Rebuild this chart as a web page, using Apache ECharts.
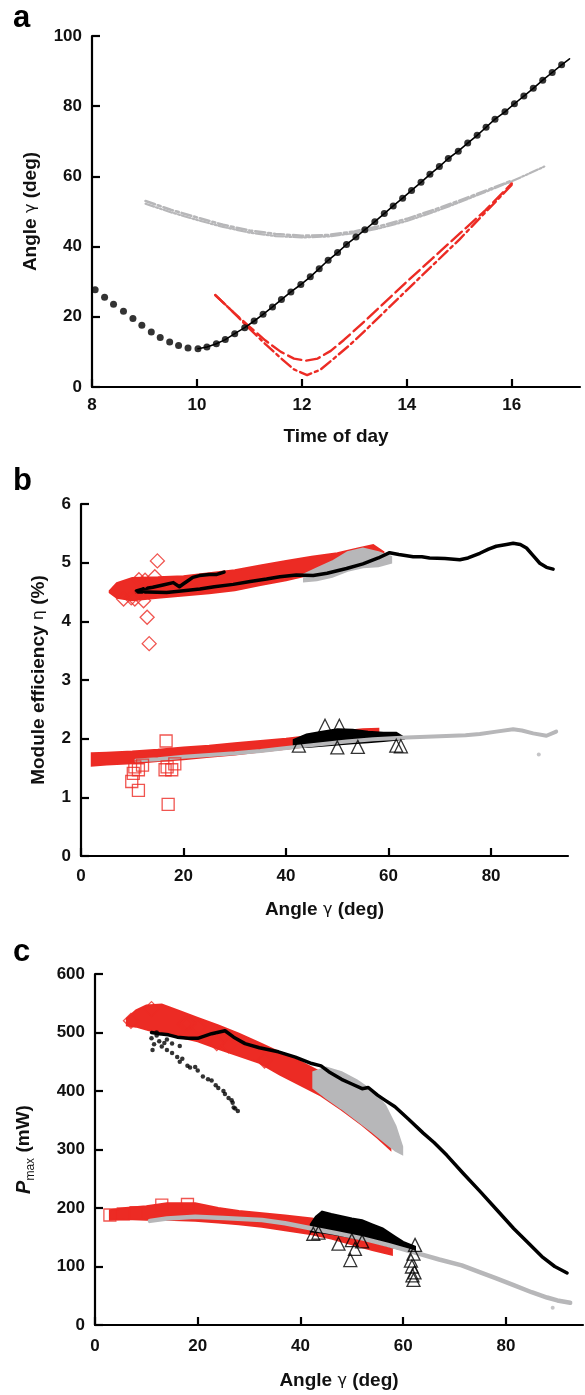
<!DOCTYPE html>
<html><head><meta charset="utf-8">
<script src="https://cdn.jsdelivr.net/npm/echarts@6/dist/echarts.min.js"></script>
<style>html,body{margin:0;padding:0;background:#fff}#c{width:585px;height:1395px}</style>
</head><body><div id="c"></div>
<script>
// ---------- Panel a : angle vs time of day ----------
var aTicksX = [8, 10, 12, 14, 16];
var aDotT = [8.06,8.24,8.41,8.60,8.78,8.95,9.13,9.30,9.48,9.65,9.83,10.02,10.19,10.37,10.54,10.72,10.91,11.09,11.26,11.44,11.61,11.79,11.98,12.16,12.33,12.50,12.68,12.85,13.03,13.20,13.39,13.57,13.74,13.92,14.09,14.27,14.44,14.62,14.79,14.98,15.16,15.34,15.51,15.68,15.87,16.05,16.23,16.41,16.59,16.77,16.95];
var aDotV = [27.7,25.6,23.6,21.6,19.5,17.6,15.7,14.1,12.8,11.8,11.1,10.9,11.4,12.3,13.5,15.2,16.9,18.8,20.7,22.8,24.9,27.1,29.2,31.4,33.7,36.1,38.3,40.6,42.7,44.8,47.1,49.4,51.6,53.8,56.0,58.3,60.6,62.8,65.1,67.2,69.5,71.7,74.0,76.3,78.4,80.7,82.9,85.1,87.4,89.6,91.8];
var aLineFrom = 11;              // connecting line starts at the 10:00 dot
var aLineEnd = [17.10, 93.5];
var aGrayAT = [9.02,9.5,10.0,10.5,11.0,11.5,12.0,12.5,13.0,13.5,14.0,14.5,15.0,15.5,16.0];
var aGrayAV = [53.0,50.5,48.3,46.2,44.6,43.6,43.1,43.3,44.3,45.9,47.9,50.4,53.1,55.9,58.8];
var aGrayBT = [9.02,9.5,10.0,10.5,11.0,11.5,12.0,12.5,13.0,13.5,14.0,14.5,15.0,15.5,16.0,16.3,16.62];
var aGrayBV = [52.2,49.8,47.6,45.6,44.0,43.0,42.6,42.9,43.8,45.3,47.3,49.8,52.6,55.6,58.6,60.6,62.8];
var aRedDashT = [10.35,10.7,11.0,11.3,11.6,11.85,12.07,12.3,12.55,12.8,13.2,13.6,14.0,14.5,15.0,15.5,16.0];
var aRedDashV = [26.2,21.2,17.2,13.3,10.0,8.1,7.5,8.1,10.3,13.4,18.8,24.4,30.0,36.8,43.6,50.4,58.0];
var aRedDotT = [10.35,10.7,11.0,11.3,11.6,11.85,12.1,12.35,12.6,12.9,13.2,13.6,14.0,14.5,15.0,15.5,16.0];
var aRedDotV = [26.2,21.2,16.6,12.3,8.2,5.0,3.4,4.9,8.0,11.8,16.0,21.8,27.6,34.8,42.0,49.8,57.6];

// ---------- Panel b : module efficiency vs angle ----------
// bands: [angle, low, high]
var bRedDiaBand = [[5.6,4.49,4.52],[7,4.40,4.65],[10,4.36,4.74],[15,4.40,4.75],[20,4.44,4.77],[25,4.48,4.82],[30,4.53,4.87],[35,4.62,4.95],[40,4.70,5.03],[45,4.80,5.10],[50,4.90,5.16],[54,4.98,5.24],[57,5.02,5.30],[59,5.08,5.18]];
var bRedDiaOut = [[14.9,5.03],[14.4,4.76],[11.3,4.71],[12.9,4.07],[13.3,3.62],[8.3,4.38],[10.5,4.38],[12.2,4.35],[12.5,4.70],[9.8,4.40]];
var bGrayCircBand = [[43.5,4.68,4.80],[46,4.70,4.90],[49,4.76,5.02],[52,4.86,5.18],[55,4.92,5.24],[58,4.94,5.18],[60.5,5.0,5.1]];
var bBlackShortX = [10.8,12,14,16,18,19.2,20,21,21.8,23.1,25,26.5,27.9];
var bBlackShortY = [4.52,4.55,4.58,4.62,4.66,4.59,4.64,4.70,4.75,4.78,4.80,4.80,4.84];
var bBlackLongX = [10.8,13,16.7,20,23.2,26,29.7,33,36.2,38.8,42,45.3,48,51.8,55,58,60.2,62,64.8,66.5,68,71,73.9,75.5,77.8,79.5,81,83,84.3,85.7,86.9,88.2,89.5,90.8,92.1];
var bBlackLongY = [4.50,4.50,4.49,4.52,4.55,4.59,4.63,4.68,4.72,4.76,4.79,4.78,4.82,4.90,4.98,5.08,5.17,5.14,5.10,5.10,5.08,5.07,5.05,5.08,5.16,5.23,5.28,5.31,5.33,5.31,5.25,5.12,4.99,4.92,4.89];
var bRedSqBand = [[2.1,1.54,1.75],[5,1.56,1.76],[10,1.58,1.78],[15,1.62,1.81],[20,1.65,1.85],[25,1.69,1.88],[30,1.73,1.92],[35,1.78,1.96],[40,1.83,2.0],[45,1.88,2.05],[50,1.93,2.12],[55,1.98,2.16],[58,2.02,2.17]];
var bRedSqOut = [[11.2,1.47],[10.2,1.41],[9.9,1.27],[11.2,1.12],[17.0,0.88],[16.4,1.47],[17.7,1.47],[16.6,1.96],[18.3,1.57],[10.5,1.52],[16.8,1.52],[12,1.55]];
var bTriBand = [[41.5,1.86,1.98],[44,1.86,2.07],[47,1.88,2.12],[50,1.90,2.16],[53,1.92,2.15],[56,1.94,2.12],[59,1.96,2.10],[61.5,1.98,2.10],[63,2.0,2.02]];
var bTriOut = [[47.6,2.22],[50.4,2.22],[50.0,1.85],[62.4,1.87],[54,1.86],[42.5,1.88],[61.5,1.88]];
var bGrayX = [10.8,15,20,25,30,35,38.8,45,51.8,57,63.5,70,75,77.8,81,84.3,86,88.2,90.8,92.7];
var bGrayY = [1.63,1.65,1.69,1.72,1.75,1.79,1.83,1.89,1.95,1.99,2.02,2.04,2.06,2.08,2.12,2.16,2.14,2.09,2.05,2.12];
var bGrayOut = [[89.3,1.73]];

// ---------- Panel c : Pmax vs angle ----------
var cRedDiaBand = [[6.2,512,524],[8,510,538],[10,505,546],[13,498,548],[16,493,538],[20,485,525],[24,472,512],[28,460,498],[32,448,482],[36,428,466],[40,410,450],[44,392,432],[48,368,410],[52,342,385],[55,320,360],[57.5,300,330]];
var cRedDiaOut = [[18.2,515],[20.1,509],[23.7,482],[17.5,514],[26,478],[33,452],[7,520],[11,540]];
var cGrayCircBand = [[42.5,405,432],[45,388,440],[48,370,432],[51,350,418],[54,330,400],[56.5,312,375],[58.5,298,340],[59.8,292,305]];
var cBlackDots = [[11,490],[11.5,480],[12,495],[12.5,485],[13,476],[13.5,482],[14,470],[15,465],[16,458],[16.5,450],[17,455],[18,443],[18.5,440],[19.5,441],[20,435],[21,425],[22,420],[22.7,418],[23.5,410],[24,405],[25,400],[25.3,395],[26,388],[26.6,384],[27,372],[27.3,370],[27.8,366],[26.8,380],[11.2,470],[12,500],[15,481],[16.5,477],[14,488]];
var cBlackLongX = [11,12.5,14.3,16,18.2,20,22.7,25.3,27,29.2,32,35.7,39,42.2,44,45.5,48,50,52,53.2,55,56.5,58.4,61,63.9,66,68.5,71.7,75,78.2,81.5,84.7,87,89.5,91.9];
var cBlackLongY = [500,498,496,492,490,490,498,503,492,481,474,467,458,447,443,433,420,412,404,406,393,384,373,352,328,312,290,259,228,197,165,137,117,100,89];
var cRedSqBand = [[2.9,180,196],[6,181,200],[10,180,203],[14,180,208],[19.5,178,208],[24,175,200],[28,172,195],[32.5,168,191],[37,162,187],[42.2,155,182],[46,148,176],[50,138,168],[54,128,158],[57.8,120,136]];
var cRedSqOut = [[2.9,188],[5.5,190],[8,192],[13,205],[18,206]];
var cTriBand = [[42,160,172],[43,159,185],[44.2,158,194],[46,156,190],[48,153,186],[50,150,182],[52,147,179],[54,143,172],[56,138,165],[58.4,132,151],[60,129,142],[62.3,126,134]];
var cTriOut = [[42.5,156],[47.4,139],[49.7,111],[50.6,130],[62,77],[61.7,100],[62,122],[62.3,137],[61.5,110],[62.2,90],[61.8,85],[50,145],[52,143],[43.5,158]];
var cGrayX = [10.7,14,19.5,25,32.5,37,42.2,47,52,57,63,67,71.4,75,78,81.5,85,88,90,92.5];
var cGrayY = [178,182,185,183,179.5,174,165,157,148,137,122,112,102,90,80,68,56,47,42,38];
var cGrayOut = [[89.1,29.6]];

// ---------- styling ----------
var RED = '#ec2b24', GRAY = '#b7b7b9', BLACK = '#000';
var FONT = '"Liberation Sans", Arial, sans-serif';
function zip(x, y) { return x.map(function (v, i) { return [v, y[i]]; }); }

function bandSeries(band, color, gi, z) {
  return {
    type: 'custom', xAxisIndex: gi, yAxisIndex: gi, data: band, z: z, silent: true,
    encode: { x: 0, y: [1, 2] },
    renderItem: function (params, api) {
      if (params.dataIndex !== 0) return null;
      var pts = [];
      for (var i = 0; i < band.length; i++) pts.push(api.coord([band[i][0], band[i][2]]));
      for (var j = band.length - 1; j >= 0; j--) pts.push(api.coord([band[j][0], band[j][1]]));
      return { type: 'polygon', shape: { points: pts }, style: { fill: color, stroke: color, lineWidth: 2 } };
    }
  };
}
function openScatter(data, symbol, size, color, gi, z) {
  return { type: 'scatter', xAxisIndex: gi, yAxisIndex: gi, data: data, symbol: symbol, symbolSize: size, z: z,
    itemStyle: { color: 'rgba(255,255,255,0)', borderColor: color, borderWidth: 1.3 } };
}
function lineS(data, color, width, type, gi, z) {
  return { type: 'line', xAxisIndex: gi, yAxisIndex: gi, data: data, showSymbol: false, z: z,
    lineStyle: { color: color, width: width, type: type || 'solid', join: 'round', cap: 'round' } };
}

function xAxis(gi, min, max, interval, name, gap, margin) {
  return {
    type: 'value', gridIndex: gi, min: min, max: max, interval: interval,
    name: name, nameLocation: 'middle', nameGap: gap,
    nameTextStyle: { fontFamily: FONT, fontWeight: 'bold', fontSize: 19, color: '#111',
      rich: { g: { fontFamily: '"DejaVu Sans", sans-serif', fontWeight: 'normal', fontSize: 16, color: '#111' } } },
    axisLine: { onZero: false, lineStyle: { color: BLACK, width: 2.2 } },
    axisTick: { inside: true, length: 8, lineStyle: { color: BLACK, width: 2.2 } },
    axisLabel: { margin: margin, showMaxLabel: false, fontFamily: FONT, fontWeight: 'bold', fontSize: 17, color: '#111' },
    splitLine: { show: false }
  };
}
function yAxis(gi, min, max, interval, name, gap, rich) {
  return {
    type: 'value', gridIndex: gi, min: min, max: max, interval: interval,
    name: name, nameLocation: 'middle', nameGap: gap, nameRotate: 90,
    nameTextStyle: { fontFamily: FONT, fontWeight: 'bold', fontSize: 19, color: '#111', rich: rich },
    axisLine: { onZero: false, lineStyle: { color: BLACK, width: 2.2 } },
    axisTick: { inside: true, length: 8, lineStyle: { color: BLACK, width: 2.2 } },
    axisLabel: { margin: 10, fontFamily: FONT, fontWeight: 'bold', fontSize: 17, color: '#111' },
    splitLine: { show: false }
  };
}
var gRich = { g: { fontFamily: '"DejaVu Sans", sans-serif', fontWeight: 'normal', fontSize: 16, color: '#111' } };
var pRich = {
  p: { fontFamily: FONT, fontWeight: 'bold', fontStyle: 'italic', fontSize: 20, color: '#111', lineHeight: 26 },
  s: { fontFamily: FONT, fontWeight: 'normal', fontSize: 12, color: '#111', lineHeight: 26, verticalAlign: 'bottom' },
  n: { fontFamily: FONT, fontWeight: 'bold', fontSize: 19, color: '#111', lineHeight: 26 }
};

var chart = echarts.init(document.getElementById('c'), null, { renderer: 'canvas' });
chart.setOption({
  animation: false,
  backgroundColor: '#fff',
  grid: [
    { left: 92, top: 36, width: 488, height: 351 },
    { left: 81, top: 504, width: 487, height: 352 },
    { left: 95, top: 974, width: 488, height: 351 }
  ],
  xAxis: [
    xAxis(0, 8, 17.3, 2, 'Time of day', 40, 10),
    xAxis(1, 0, 95, 20, 'Angle {g|γ} (deg)', 44, 12),
    xAxis(2, 0, 95, 20, 'Angle {g|γ} (deg)', 46, 13)
  ],
  yAxis: [
    yAxis(0, 0, 100, 20, 'Angle {g|γ} (deg)', 52, gRich),
    yAxis(1, 0, 6, 1, 'Module efficiency {g|η} (%)', 33, gRich),
    yAxis(2, 0, 600, 100, '{p|P}{s|max}{n| (mW)}', 58, pRich)
  ],
  graphic: [
    { type: 'text', left: 13, top: 3, style: { text: 'a', font: 'bold 31px ' + FONT, fill: '#000' } },
    { type: 'text', left: 13, top: 466, style: { text: 'b', font: 'bold 31px ' + FONT, fill: '#000' } },
    { type: 'text', left: 13, top: 937, style: { text: 'c', font: 'bold 31px ' + FONT, fill: '#000' } }
  ],
  series: [
    // panel a
    lineS(aDotT.slice(aLineFrom).map(function (t, i) { return [t, aDotV[aLineFrom + i]]; }).concat([aLineEnd]), BLACK, 1.6, 'solid', 0, 5),
    { type: 'scatter', xAxisIndex: 0, yAxisIndex: 0, data: zip(aDotT, aDotV), symbol: 'circle', symbolSize: 7, z: 6, itemStyle: { color: BLACK } },
    lineS(zip(aGrayAT, aGrayAV), GRAY, 2.6, [10, 3, 3, 3], 0, 3),
    lineS(zip(aGrayBT, aGrayBV), GRAY, 2.2, [9, 2, 2, 2, 2, 2], 0, 3),
    lineS(zip(aRedDashT, aRedDashV), RED, 2.4, [14, 5], 0, 4),
    lineS(zip(aRedDotT, aRedDotV), RED, 2.4, [12, 4, 3, 4], 0, 4),
    // panel b
    bandSeries(bRedDiaBand, RED, 1, 2),
    openScatter(bRedDiaOut, 'diamond', 14, RED, 1, 7),
    bandSeries(bRedSqBand, RED, 1, 2),
    openScatter(bRedSqOut, 'rect', 12, RED, 1, 7),
    bandSeries(bTriBand, BLACK, 1, 3),
    openScatter(bTriOut, 'triangle', 13, BLACK, 1, 7),
    bandSeries(bGrayCircBand, GRAY, 1, 4),
    lineS(zip(bGrayX, bGrayY), GRAY, 4, 'solid', 1, 5),
    { type: 'scatter', xAxisIndex: 1, yAxisIndex: 1, data: bGrayOut, symbolSize: 4, z: 5, itemStyle: { color: GRAY } },
    lineS(zip(bBlackShortX, bBlackShortY), BLACK, 3.5, 'solid', 1, 6),
    lineS(zip(bBlackLongX, bBlackLongY), BLACK, 3.5, 'solid', 1, 6),
    // panel c
    bandSeries(cRedDiaBand, RED, 2, 2),
    openScatter(cRedDiaOut, 'diamond', 15, RED, 2, 7),
    bandSeries(cRedSqBand, RED, 2, 2),
    openScatter(cRedSqOut, 'rect', 12, RED, 2, 7),
    bandSeries(cTriBand, BLACK, 2, 3),
    openScatter(cTriOut, 'triangle', 13, BLACK, 2, 7),
    bandSeries(cGrayCircBand, GRAY, 2, 4),
    lineS(zip(cGrayX, cGrayY), GRAY, 4.5, 'solid', 2, 5),
    { type: 'scatter', xAxisIndex: 2, yAxisIndex: 2, data: cGrayOut, symbolSize: 4, z: 5, itemStyle: { color: GRAY } },
    { type: 'scatter', xAxisIndex: 2, yAxisIndex: 2, data: cBlackDots, symbolSize: 4.5, z: 6, itemStyle: { color: BLACK } },
    lineS(zip(cBlackLongX, cBlackLongY), BLACK, 3.5, 'solid', 2, 6)
  ]
});
</script></body></html>
